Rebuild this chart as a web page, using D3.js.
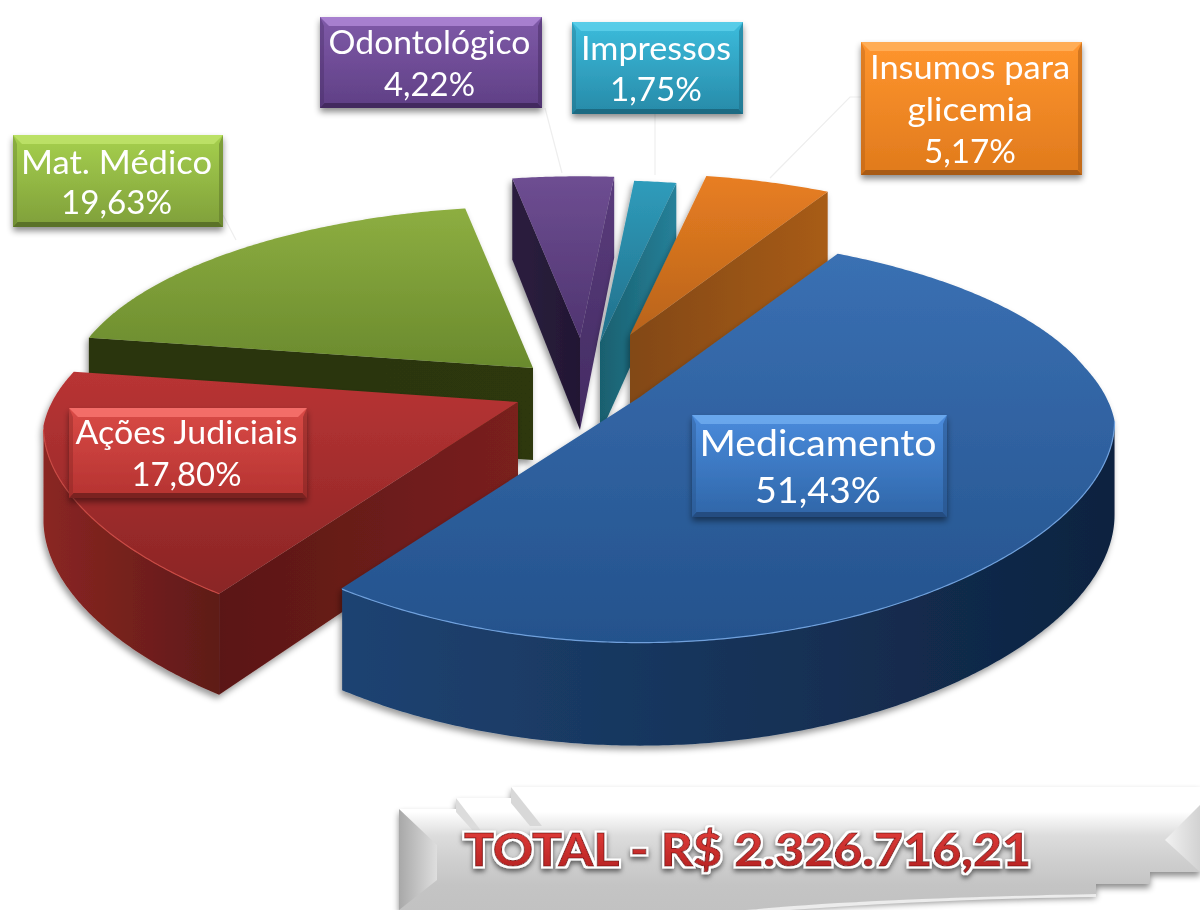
<!DOCTYPE html>
<html><head><meta charset="utf-8">
<style>html,body{margin:0;padding:0;background:#fff}svg{display:block;filter:blur(0.45px)}text{font-family:Lato,"Open Sans",sans-serif}</style>
<script src="https://cdnjs.cloudflare.com/ajax/libs/d3/7.8.5/d3.min.js"></script>
</head><body><svg id="c" width="1200" height="910"></svg>
<script>
// ---- data (clockwise from the first slice)
const categories = ["Medicamento","Ações Judiciais","Mat. Médico","Odontológico","Impressos","Insumos para glicemia"];
const values = [51.43,17.80,19.63,4.22,1.75,5.17];
const valueLabels = ["51,43%","17,80%","19,63%","4,22%","1,75%","5,17%"];
const labelLines = [["Medicamento"],["Ações Judiciais"],["Mat. Médico"],["Odontológico"],["Impressos"],["Insumos para","glicemia"]];
const totalLabel = "TOTAL - R$ 2.326.716,21";

// ---- styles & layout
const topColors  = [["#3a70b3","#24528c"],["#b93434","#8a2525"],["#8dae41","#6a8a2d"],["#6e4e92","#4f3470"],["#2f9cbb","#216f8a"],["#e87e22","#b8631a"]];
const wallColors = [["#1e4372","#0e2340"],["#8a2622","#5e1a18"],["#2c3610","#2a3410"],["#2e2042","#221733"],["#268099","#19606f"],["#a85c18","#824812"]];
const cutColors  = [["#1e4372","#1a3a66"],["#5a1715","#7a201e"],["#2a340f","#2d3711"],["#2c1f3f","#221733"],["#19606f","#268099"],["#824812","#a85c18"]];
const rightFaceColors = ["#5a3c7c","#432b62"];
const boxColors  = [["#4a8bdc","#2f66a8"],["#d94a46","#b53331"],["#a6d04e","#7f9f3a"],["#7f5aa8","#5f3f85"],["#3cbcdc","#278aa8"],["#ff952e","#e07a1c"]];
const edgeLight  = ["#78b4f4","#ff7d78","#c4e870","#b990e0","#64d4ee","#ffb868"];
const edgeDark   = ["#244c80","#7a2220","#5a7228","#43295f","#1c6a82","#a85a14"];
const centerX = 575, centerY = 385, K = 195, perspY = 0.206;
const radiusX = d3.scaleLinear().domain([-1,-0.16,0.12,1]).range([385,450,478,530]);
const startDeg = 30;
const offsets = [[65,12],[-57,17],[-42,-17],[5,-47],[25,-43],[55,-50]];
const boxes = [[692,415,255,102,36,[237],126,[456,503]],
               [69,408,238,90,32,[222],110,[444,486]],
               [13,135,210,92,32,[191],111,[174,214]],
               [320,17,222,91,32,[202],91,[54,96]],
               [572,22,171,92,32,[150],92,[60,101]],
               [861,42,221,133,32,[200,125],92,[79,121,163]]];
const leaders = [[[545,108],[562,173]],[[655,114],[655,175]],[[862,97],[850,97],[770,178]],[[223,215],[236,240]]];
const drawOrder = [3,4,5,2,1,0];

const svg = d3.select("#c");
const defs = svg.append("defs");
function grad(id,c,vert){
  const g = defs.append("linearGradient").attr("id",id).attr("x1",0).attr("y1",0)
    .attr("x2",vert?0:1).attr("y2",vert?1:0);
  c.forEach((col,i)=>g.append("stop").attr("offset",i/(c.length-1)).attr("stop-color",col));
}
function shadow(id,dx,dy,b,a){
  const f = defs.append("filter").attr("id",id).attr("x","-20%").attr("y","-20%").attr("width","140%").attr("height","150%");
  f.append("feDropShadow").attr("dx",dx).attr("dy",dy).attr("stdDeviation",b).attr("flood-color","#000").attr("flood-opacity",a);
}
shadow("sl",-2,4,3,.4); shadow("bx",0,4,3,.45);
categories.forEach((c,i)=>{grad("top"+i,topColors[i],true);grad("wall"+i,wallColors[i],false);grad("cut"+i,cutColors[i],false);grad("box"+i,boxColors[i],true);});
grad("rf",rightFaceColors,true);

// ---- projection of the tilted disc
const project = (deg)=>{
  const t = deg*Math.PI/180, u = Math.sin(t), v = -Math.cos(t);
  return {x:radiusX(v)*u, y:K*v/(1-perspY*v), d:92*(1+0.12*v)};
};
const pie = d3.pie().sort(null).value(d=>d)
   .startAngle(startDeg*Math.PI/180).endAngle((startDeg+360)*Math.PI/180);
const arcs = pie(values);
const line = d3.line().x(d=>d[0]).y(d=>d[1]);
const closed = pts=>line(pts)+"Z";

// leaders
const leadG = svg.append("g");
leaders.forEach(l=>leadG.append("path").attr("d",line(l)).attr("fill","none").attr("stroke","#eeeeee").attr("stroke-width",1.2));

// slices
drawOrder.forEach(i=>{
  const a = arcs[i];
  const d0 = a.startAngle*180/Math.PI, d1 = a.endAngle*180/Math.PI;
  const ox = centerX+offsets[i][0], oy = centerY+offsets[i][1];
  const degs = d3.range(d0,d1,0.5).concat([d1]);
  const rim = degs.map(d=>{const p=project(d);return [ox+p.x,oy+p.y,p.d];});
  const apex = [ox,oy,92];
  const g = svg.append("g").attr("filter","url(#sl)");
  const wallQuad = (a,b)=>closed([[a[0],a[1]],[b[0],b[1]],[b[0],b[1]+b[2]],[a[0],a[1]+a[2]]]);
  const first = rim[0], last = rim[rim.length-1];
  if(apex[0]>first[0]) {
    g.append("path").attr("d",wallQuad(apex,first)).attr("fill",`url(#cut${i})`);
  }
  const vis = rim.filter((p,k)=>k<rim.length-1 && rim[k+1][0]<p[0]);
  if(vis.length>1){
    const up = vis.map(p=>[p[0],p[1]]), dn = vis.map(p=>[p[0],p[1]+p[2]]).reverse();
    g.append("path").attr("d",closed(up.concat(dn))).attr("fill",`url(#wall${i})`);
  }
  if(last[0]>apex[0]){
    g.append("path").attr("d",wallQuad(last,apex)).attr("fill",i===3?"url(#rf)":`url(#cut${i})`);
  }
  const topPts = [[apex[0],apex[1]]].concat(rim.map(p=>[p[0],p[1]]));
  g.append("path").attr("d",closed(topPts)).attr("fill",`url(#top${i})`);
  if(vis.length>1 && (i===0||i===1)){
    g.append("path").attr("d",line(vis.map(p=>[p[0],p[1]]))).attr("fill","none")
     .attr("stroke",i===0?"#6fa0dc":"#c94a44").attr("stroke-width",1.2);
  }
});

// ---- label boxes
boxes.forEach((b,i)=>{
  const [x,y,w,h,fs,lw,vw,base] = b, bev=9;
  const g = svg.append("g");
  g.append("rect").attr("x",x).attr("y",y).attr("width",w).attr("height",h).attr("fill",`url(#box${i})`).attr("filter","url(#bx)");
  g.append("path").attr("d",closed([[x,y],[x+w,y],[x+w-bev,y+bev],[x+bev,y+bev]])).attr("fill",edgeLight[i]).attr("opacity",.7);
  g.append("path").attr("d",closed([[x,y+h],[x+w,y+h],[x+w-bev/2,y+h-5],[x+bev/2,y+h-5]])).attr("fill",edgeDark[i]);
  g.append("path").attr("d",closed([[x,y],[x+4,y+bev],[x+4,y+h-5],[x,y+h]])).attr("fill",edgeDark[i]).attr("opacity",.35);
  g.append("path").attr("d",closed([[x+w,y],[x+w-4,y+bev],[x+w-4,y+h-5],[x+w,y+h]])).attr("fill",edgeDark[i]).attr("opacity",.5);
  const lines = labelLines[i].concat([valueLabels[i]]);
  const widths = lw.concat([vw]);
  lines.forEach((t,k)=>{
    g.append("text").attr("x",x+w/2-1.5).attr("y",base[k]).attr("text-anchor","middle")
     .attr("font-size",fs).attr("fill","#fff")
     .attr("textLength",widths[k]).attr("lengthAdjust","spacingAndGlyphs").text(t);
  });
});

// ---- ribbon
grad("rib",["#ffffff","#ffffff","#dcdcdc","#cfcfcf","#c4c4c4","#c2c2c2"],true);
grad("ribL",["#a8a8a8","#dedede"],false);
grad("ribR",["#f2f2f2","#d2d2d2"],false);
const rib = svg.append("g");
rib.append("path").attr("d","M399 809L456 809L456 798L511 798L511 787L1200 787L1200 872L1150 872L1150 884L1096 884L1096 894C1000 896 850 900 746 910L399 910Z")
   .attr("fill","url(#rib)").attr("filter","url(#bx)");
rib.append("path").attr("d","M399 809L437 845L437 880L399 910Z").attr("fill","url(#ribL)");
rib.append("path").attr("d","M456 798L482 832L474 832L456 812Z").attr("fill","#dcdcdc");
rib.append("path").attr("d","M511 787L542 826L530 826L511 803Z").attr("fill","#d8d8d8");
rib.append("path").attr("d","M1200 805L1165 840L1200 872Z").attr("fill","url(#ribR)");
rib.append("path").attr("d","M1096 894C1000 896 850 900 746 910L790 910C900 902 1010 898 1096 897Z").attr("fill","#ececec");

// ---- total
grad("tot",["#e8403c","#b02020"],true);
const hf = defs.append("filter").attr("id","halo").attr("x","-5%").attr("y","-30%").attr("width","110%").attr("height","170%");
hf.append("feMorphology").attr("in","SourceAlpha").attr("operator","dilate").attr("radius",2).attr("result","d");
hf.append("feFlood").attr("flood-color","#fff").attr("result","w");
hf.append("feComposite").attr("in","w").attr("in2","d").attr("operator","in").attr("result","ring");
hf.append("feGaussianBlur").attr("in","d").attr("stdDeviation",2.5).attr("result","b");
hf.append("feOffset").attr("in","b").attr("dx",0).attr("dy",3).attr("result","o");
hf.append("feFlood").attr("flood-color","#000").attr("flood-opacity",.55).attr("result","k");
hf.append("feComposite").attr("in","k").attr("in2","o").attr("operator","in").attr("result","sh");
const m = hf.append("feMerge");
["sh","ring","SourceGraphic"].forEach(n=>m.append("feMergeNode").attr("in",n));
svg.append("text").attr("x",747.5).attr("y",866).attr("text-anchor","middle")
  .attr("font-size",46).attr("font-weight",700).attr("fill","url(#tot)")
  .attr("stroke","#8c1a1a").attr("stroke-width",1)
  .attr("textLength",567).attr("lengthAdjust","spacingAndGlyphs")
  .attr("filter","url(#halo)").text(totalLabel);
</script></body></html>
